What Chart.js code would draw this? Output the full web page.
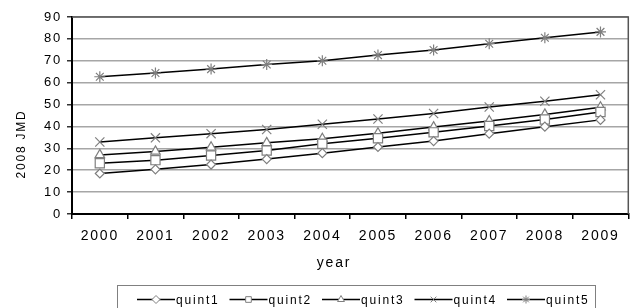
<!DOCTYPE html>
<html>
<head>
<meta charset="utf-8">
<script src="https://cdn.jsdelivr.net/npm/chart.js@4/dist/chart.umd.min.js"></script>
<style>
  html,body{margin:0;padding:0;background:#fff;}
  #wrap{width:636px;height:308px;position:relative;}
</style>
</head>
<body>
<div id="wrap"><canvas id="c" width="636" height="308"></canvas></div>
<script>
// --- data ---
const years = ['2000','2001','2002','2003','2004','2005','2006','2007','2008','2009'];
const quint1 = [18.5, 20.4, 22.6, 25.1, 27.8, 30.6, 33.3, 36.7, 39.9, 43.0];
const quint2 = [23.2, 24.6, 26.7, 29.0, 32.1, 34.6, 37.3, 40.2, 43.2, 46.6];
const quint3 = [27.0, 28.6, 30.5, 32.5, 34.4, 36.9, 39.7, 42.5, 45.5, 48.8];
const quint4 = [32.9, 34.8, 36.7, 38.6, 41.0, 43.4, 45.9, 48.9, 51.5, 54.5];
const quint5 = [62.7, 64.4, 66.2, 68.3, 70.0, 72.6, 74.9, 77.8, 80.5, 83.2];
const yTicks = [0,10,20,30,40,50,60,70,80,90];

const FONT = '"Liberation Sans", Arial, sans-serif';
const SPACING = '1.8px';

function ds(label, data, style, r) {
  return {label, data, borderColor:'#000', borderWidth:1.5, tension:0,
    pointStyle:style, pointRadius:r, pointHoverRadius:r,
    pointBackgroundColor:'#fff', pointBorderColor:'#7f7f7f', pointBorderWidth:1.2};
}

// plot frame, axis titles and boxed legend (Excel-like)
const decor = {
  id:'decor',
  beforeDraw(chart){ chart.ctx.letterSpacing = SPACING; },
  afterDraw(chart){
    const {ctx, chartArea:a} = chart;
    ctx.save();
    ctx.letterSpacing = SPACING;
    // top/right frame
    ctx.strokeStyle = '#555'; ctx.lineWidth = 1.5;
    ctx.beginPath(); ctx.moveTo(a.left, a.top); ctx.lineTo(a.right, a.top); ctx.lineTo(a.right, a.bottom); ctx.stroke();
    ctx.fillStyle = '#000';
    // x title
    ctx.font = '14px ' + FONT; ctx.textAlign = 'center'; ctx.textBaseline = 'middle';
    ctx.fillText('year', 334, 263);
    // y title
    ctx.save(); ctx.translate(22, 144); ctx.rotate(-Math.PI/2);
    ctx.font = '12px ' + FONT; ctx.fillText('2008 JMD', 0, 0); ctx.restore();
    // legend box
    ctx.strokeStyle = '#808080'; ctx.lineWidth = 1;
    ctx.strokeRect(117.5, 285.5, 478, 30);
    ctx.font = '12px ' + FONT; ctx.textAlign = 'left';
    chart.data.datasets.forEach((d, i) => {
      const x0 = 137 + i*92.5, y = 299.5;
      ctx.strokeStyle = '#000'; ctx.lineWidth = 1.5;
      ctx.beginPath(); ctx.moveTo(x0, y); ctx.lineTo(x0 + 38, y); ctx.stroke();
      ctx.fillStyle = '#fff'; ctx.strokeStyle = d.pointBorderColor; ctx.lineWidth = 1;
      Chart.helpers.drawPoint(ctx, {pointStyle:d.pointStyle, radius:Math.min(d.pointRadius, 4), rotation:0, borderWidth:1}, x0 + 19, y);
      ctx.fillStyle = '#000';
      ctx.fillText(d.label, x0 + 39, y + 1);
    });
    ctx.restore();
  }
};

new Chart(document.getElementById('c'), {
  type:'line',
  data:{labels:years, datasets:[
    ds('quint1', quint1, 'rectRot', 4.5),
    ds('quint2', quint2, 'rect', 6.5),
    ds('quint3', quint3, 'triangle', 5.5),
    ds('quint4', quint4, 'crossRot', 6.5),
    ds('quint5', quint5, 'star', 5.5)
  ]},
  options:{
    responsive:false, animation:false, events:[],
    layout:{padding:{left:0, right:6, top:17, bottom:0}},
    plugins:{legend:{display:false}, tooltip:{enabled:false}},
    scales:{
      x:{offset:true,
        grid:{offset:true, drawOnChartArea:false, tickLength:5, tickColor:'#000', lineWidth:1.5},
        border:{color:'#000', width:2},
        ticks:{font:{size:14, family:FONT}, color:'#000', padding:9, maxRotation:0, autoSkip:false},
        afterFit(s){ s.height = 94; }},
      y:{min:0, max:90,
        afterBuildTicks(s){ s.ticks = yTicks.map(v => ({value:v})); },
        grid:{color:'#a6a6a6', lineWidth:1.5, tickLength:5, tickColor:'#333'},
        border:{color:'#000', width:2},
        ticks:{font:{size:13, family:FONT}, color:'#000', padding:5},
        afterFit(s){ s.width = 72; }}
    }
  },
  plugins:[decor]
});
</script>
</body>
</html>
